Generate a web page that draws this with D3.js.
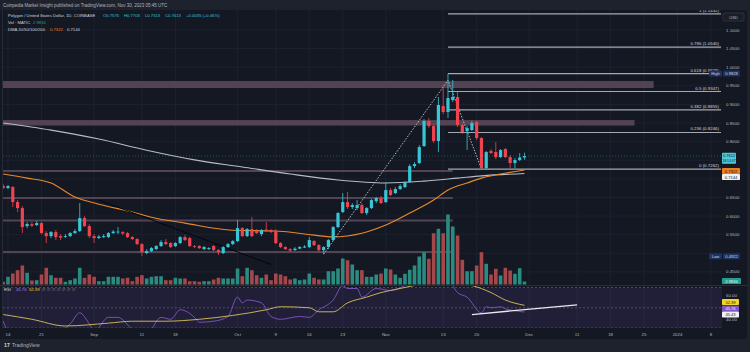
<!DOCTYPE html>
<html><head><meta charset="utf-8">
<script src="https://cdn.jsdelivr.net/npm/d3@7/dist/d3.min.js"></script>
<style>
html,body{margin:0;padding:0;background:#1e222d;overflow:hidden}
svg{display:block}
text{font-family:'Liberation Sans',Arial,sans-serif}
</style></head><body>
<svg id="chart" width="750" height="352"></svg>
<script>
// ---------------- DATA ----------------
const firstDay = "2023-08-13", lastDay = "2023-11-30";
const opens  = [0.6806,0.6753,0.6780,0.6376,0.6215,0.5731,0.5785,0.5758,0.5812,0.5543,0.5462,0.5570,0.5462,0.5449,0.5462,0.5543,0.5597,0.5946,0.5731,0.5462,0.5409,0.5435,0.5435,0.5543,0.5570,0.5570,0.5543,0.5435,0.5382,0.5247,0.5005,0.5059,0.5113,0.5194,0.5301,0.5274,0.5194,0.5274,0.5435,0.5409,0.5194,0.5194,0.5113,0.5113,0.5194,0.5086,0.5005,0.5167,0.5247,0.5328,0.5677,0.5462,0.5651,0.5597,0.5516,0.5637,0.5624,0.5597,0.5274,0.5167,0.5113,0.5086,0.5126,0.5153,0.5167,0.5328,0.5220,0.5086,0.5167,0.5355,0.5704,0.6108,0.6376,0.6242,0.6215,0.6296,0.6081,0.6215,0.6403,0.6484,0.6376,0.6699,0.6618,0.6726,0.6780,0.6914,0.7344,0.7425,0.7882,0.8554,0.8419,0.8016,0.8957,0.8796,0.9118,0.9199,0.8446,0.8285,0.8312,0.8527,0.8097,0.7290,0.7747,0.7720,0.7586,0.7801,0.7586,0.7425,0.7505,0.7575];
const highs  = [0.6860,0.6833,0.6806,0.6430,0.6269,0.5839,0.5839,0.5866,0.5839,0.5597,0.5597,0.5624,0.5516,0.5516,0.5570,0.5651,0.6349,0.6000,0.5785,0.5516,0.5489,0.5516,0.5570,0.5624,0.5704,0.5597,0.5570,0.5462,0.5409,0.5274,0.5113,0.5167,0.5220,0.5355,0.5382,0.5301,0.5301,0.5462,0.5489,0.5435,0.5220,0.5220,0.5194,0.5167,0.5220,0.5113,0.5194,0.5274,0.5355,0.5892,0.5704,0.5677,0.5973,0.5651,0.5651,0.5839,0.5651,0.5651,0.5301,0.5194,0.5140,0.5167,0.5194,0.5220,0.5435,0.5355,0.5247,0.5194,0.5382,0.5731,0.6108,0.6618,0.6645,0.6349,0.6430,0.6349,0.6242,0.6457,0.6511,0.6538,0.6914,0.6753,0.6780,0.6860,0.6941,0.7398,0.7452,0.7909,0.8608,0.8634,0.8473,0.9199,0.9522,0.9828,0.9656,0.9333,0.8500,0.8419,0.8554,0.8554,0.8124,0.7747,0.7801,0.7989,0.7801,0.7828,0.7640,0.7559,0.7694,0.7703];
const lows   = [0.6726,0.6726,0.6242,0.6108,0.5543,0.5677,0.5704,0.5731,0.5516,0.5274,0.5409,0.5355,0.5355,0.5409,0.5435,0.5516,0.5570,0.5704,0.5409,0.5274,0.5382,0.5409,0.5409,0.5516,0.5516,0.5489,0.5409,0.5355,0.5220,0.4922,0.4978,0.5032,0.5086,0.5167,0.5220,0.5140,0.5167,0.5247,0.5328,0.5167,0.5140,0.5113,0.5086,0.5086,0.5059,0.4952,0.4978,0.5140,0.5220,0.5301,0.5435,0.5435,0.5435,0.5516,0.5462,0.5570,0.5543,0.5247,0.5140,0.5086,0.5032,0.5059,0.5113,0.5140,0.5140,0.5194,0.5032,0.4978,0.5113,0.5328,0.5677,0.6081,0.6188,0.6188,0.6161,0.6054,0.6027,0.6188,0.6349,0.6323,0.6349,0.6538,0.6591,0.6699,0.6753,0.6887,0.7290,0.7398,0.7855,0.8366,0.7962,0.7720,0.8742,0.8634,0.9065,0.8392,0.8204,0.7774,0.8285,0.8043,0.7262,0.7262,0.7667,0.7532,0.7559,0.7559,0.7290,0.7290,0.7478,0.7513];
const closes = [0.6753,0.6806,0.6376,0.6215,0.5704,0.5785,0.5745,0.5812,0.5543,0.5462,0.5570,0.5435,0.5422,0.5462,0.5543,0.5597,0.5946,0.5731,0.5462,0.5409,0.5449,0.5462,0.5543,0.5583,0.5583,0.5530,0.5435,0.5382,0.5247,0.5032,0.5059,0.5140,0.5194,0.5301,0.5247,0.5167,0.5274,0.5435,0.5355,0.5194,0.5180,0.5140,0.5167,0.5140,0.5086,0.5032,0.5167,0.5247,0.5328,0.5677,0.5462,0.5651,0.5462,0.5543,0.5624,0.5597,0.5570,0.5274,0.5167,0.5113,0.5073,0.5126,0.5167,0.5180,0.5355,0.5220,0.5086,0.5167,0.5355,0.5704,0.6081,0.6376,0.6242,0.6296,0.6296,0.6081,0.6215,0.6430,0.6484,0.6349,0.6699,0.6565,0.6726,0.6806,0.6914,0.7344,0.7398,0.7855,0.8554,0.8419,0.8016,0.8984,0.8796,0.9172,0.9199,0.8446,0.8258,0.8366,0.8500,0.8097,0.7290,0.7720,0.7694,0.7586,0.7774,0.7586,0.7425,0.7505,0.7575,0.7613];
// volume (millions MATIC)
const volumes = [2.7,7.7,11,14.3,19,11.7,4,4.3,10,16.7, 9.3,6.7,6.7,2.7,4.3,6,16.7,6.7,10,7.7, 3.3,3.3,7.7,7.7,7.7,6,6.7,3.3,7.7,9.3, 6,7.7,8.3,8.3,4.3,4.3,6.7,6,6,3.3, 3.3,2.7,3.3,3.3,5,6.7,6,6,6,16, 8.3,16.7,14.3,9.3,6.7,10,4.3,11,10,8.3, 5,6,4.3,5,11,6.7,5,5,13.3,13.3, 16,26,24.3,20,14.3,14.3,7.7,7.7,10,11, 16,15,10,6.7,10.7,14.7,19,28,32.3,25.7, 51.3,55.7,51.3,70,58,49,24.7,13.3,13.3,19, 32.3,20.7,10,15.7,9,16.7,14,10.7,16.3,2.9834];
// moving averages (candle index -> value)
const ma200Idx = [0,10,20,30,40,50,60,70,80,88,95,100,109];
const ma200Val = [0.850,0.831,0.807,0.777,0.751,0.732,0.713,0.697,0.689,0.694,0.702,0.708,0.7144];
const ma50Idx  = [0,5,10,15,20,27,31,38,48,57,63,69,75,80,85,90,93,97,100,104,109];
const ma50Val  = [0.713,0.702,0.689,0.651,0.632,0.611,0.597,0.581,0.562,0.560,0.552,0.544,0.554,0.576,0.608,0.643,0.670,0.689,0.702,0.713,0.724];
// RSI and its MA (candle index -> value)
const rsiIdx = [0,1,3,6,10,14,16,18,19,22,24,27,30,33,35,37,40,41,44,47,49,50,51,54,56,58,62,64,66,69,71,72,74,75,78,81,84,87,90,93,94,95,97,100,101,102,104,105,107,109];
const rsiVal = [36.7,27,22,23,24,34,45,34,27,40.5,40.5,29,24,40.5,38.6,48,40.5,35.7,36.7,41.4,60.5,54.8,57.6,54.8,41.4,38.6,41.4,40.5,48,57.6,71.9,69,69,60.5,69,67,72,80,78,82,72,65,60.5,45,51,50,51,49,47,45.76];
const rsiMaIdx = [0,6,13,22,27,34,41,48,55,58,64,66,69,72,76,79,83,86,89,94,98,102,105,109];
const rsiMaVal = [43.3,38.6,32,34.8,36.7,36.7,38.6,42.4,48,51,50,46,46,54.8,60.5,65,69,72,74,75,72,65,57.6,52.39];
// price-axis ticks (those hidden behind value tags in the reference are left out)
const priceTicks = [0.45,0.55,0.60,0.65,0.80,0.85,0.90,0.95,1.00,1.05,1.10];
// time-axis ticks
const timeTickDates  = ["2023-08-14","2023-08-21","2023-09-01","2023-09-11","2023-09-18","2023-10-01","2023-10-09","2023-10-16","2023-10-23","2023-11-01","2023-11-13","2023-11-20","2023-12-01","2023-12-11","2023-12-18","2023-12-25","2024-01-01","2024-01-08"];
const timeTickLabels = ["14","21","Sep","11","18","Oct","9","16","23","Nov","13","20","Dec","11","18","25","2024","8"];
// fibonacci levels
const fibRatios = ["0","0.236","0.382","0.5","0.618","0.786","1"];
const fibPrices = [0.7262,0.8246,0.8855,0.9347,0.9829,1.0540,1.1432];
const fibStart = "2023-11-14";
// support / resistance drawings
const zoneTop = [0.9629,0.8580], zoneBottom = [0.9441,0.8433], zoneEnd = ["2023-12-27","2023-12-23"];
const levelPrices = [0.7210,0.6484,0.5879,0.5032], levelEnd = "2023-11-15";
const darkTrendDates = ["2023-09-02","2023-10-08"], darkTrendPrices = [0.643,0.470];
const dotLegDates = ["2023-10-19","2023-11-14","2023-11-21"], dotLegPrices = [0.4978,0.9650,0.7262];
const rsiTrendDates = ["2023-11-19","2023-12-11"], rsiTrendVals = [43.3,52.9];

// ---------------- SCALES ----------------
const P = d3.utcParse("%Y-%m-%d");
const dates = d3.utcDay.range(P(firstDay), d3.utcDay.offset(P(lastDay),1));
const x = d3.scaleUtc().domain([P("2023-08-14"), P("2024-01-08")]).range([8,711]);
const y = d3.scaleLinear().domain([0.45,1.10]).range([271.9,30]);
const yv = d3.scaleLinear().domain([0,70]).range([284.5,214.5]);
const yr = d3.scaleLinear().domain([30,70]).range([328,287.5]);

const svg = d3.select("#chart");
const L = 3, R = 722, TOP = 10, MAINB = 285, RSIB = 328;
const UP = "#37c6d6", DN = "#ef4450", VUP = "#2a8b80", VDN = "#a6474b";

// backgrounds
svg.append("rect").attr("width",750).attr("height",352).attr("fill","#1e222d");
svg.append("rect").attr("x",0).attr("y",TOP).attr("width",747).attr("height",339-TOP).attr("fill","#141823");
svg.append("defs").call(d=>{
  d.append("clipPath").attr("id","cm").append("rect").attr("x",L).attr("y",TOP).attr("width",R-L).attr("height",MAINB-TOP);
  d.append("clipPath").attr("id","cr").append("rect").attr("x",L).attr("y",MAINB+1).attr("width",R-L).attr("height",RSIB-MAINB-1);
});

// grid
const grid = svg.append("g").attr("stroke","#1d2130").attr("stroke-width",1);
timeTickDates.forEach(t=>grid.append("line").attr("x1",x(P(t))).attr("x2",x(P(t))).attr("y1",TOP).attr("y2",RSIB));
d3.range(0.45,1.1001,0.05).forEach(p=>grid.append("line").attr("x1",L).attr("x2",R).attr("y1",y(p)).attr("y2",y(p)));

const main = svg.append("g").attr("clip-path","url(#cm)");

// zones and levels
zoneTop.forEach((t,i)=>main.append("rect").attr("x",L).attr("y",y(t)).attr("width",x(P(zoneEnd[i]))-L).attr("height",y(zoneBottom[i])-y(t)).attr("fill","#5a4858").attr("opacity",0.9));
levelPrices.forEach(p=>main.append("line").attr("x1",L).attr("x2",x(P(levelEnd))).attr("y1",y(p)).attr("y2",y(p)).attr("stroke","#524454").attr("stroke-width",2));

// fib
fibPrices.forEach((p,i)=>{
  main.append("line").attr("x1",x(P(fibStart))).attr("x2",R-1).attr("y1",y(p)).attr("y2",y(p)).attr("stroke","#a5a8b0").attr("stroke-width",1.2);
  main.append("text").attr("x",R-3).attr("y",y(p)-2).attr("text-anchor","end").attr("font-size",4.4).attr("fill","#d1d4dc").text(`${fibRatios[i]} (${p.toFixed(4)})`);
});

// volume
const xi = i => x(dates[i]);
main.selectAll("rect.v").data(volumes).join("rect").attr("x",(v,i)=>xi(i)-1.8).attr("width",3.6)
  .attr("y",v=>yv(v)).attr("height",v=>yv(0)-yv(v)).attr("fill",(v,i)=>closes[i]>=opens[i]?VUP:VDN);

// MAs
const lineP = d3.line().curve(d3.curveMonotoneX);
main.append("path").attr("d",lineP(ma200Idx.map((k,j)=>[xi(k),y(ma200Val[j])]))).attr("fill","none").attr("stroke","#b8bbc4").attr("stroke-width",1.1);
main.append("path").attr("d",lineP(ma50Idx.map((k,j)=>[xi(k),y(ma50Val[j])]))).attr("fill","none").attr("stroke","#e9892b").attr("stroke-width",1.1);
main.append("line").attr("x1",x(P(darkTrendDates[0]))).attr("y1",y(darkTrendPrices[0])).attr("x2",x(P(darkTrendDates[1]))).attr("y2",y(darkTrendPrices[1])).attr("stroke","#05070b").attr("stroke-width",1);
main.append("path").attr("d",d3.line()(dotLegDates.map((d,j)=>[x(P(d)),y(dotLegPrices[j])]))).attr("fill","none").attr("stroke","#c9ccd4").attr("stroke-width",0.9).attr("stroke-dasharray","1.5,1.5");

// candles
const cg = main.append("g");
dates.forEach((d,i)=>{
  const c = closes[i]>=opens[i]?UP:DN, cx = xi(i);
  cg.append("line").attr("x1",cx).attr("x2",cx).attr("y1",y(highs[i])).attr("y2",y(lows[i])).attr("stroke",c).attr("stroke-width",0.8);
  const t = y(Math.max(opens[i],closes[i])), b = y(Math.min(opens[i],closes[i]));
  cg.append("rect").attr("x",cx-1.6).attr("width",3.2).attr("y",t).attr("height",Math.max(0.8,b-t)).attr("fill",c);
});
// last price line
main.append("line").attr("x1",L).attr("x2",R).attr("y1",y(closes[109])).attr("y2",y(closes[109])).attr("stroke","#37c6d6").attr("stroke-opacity",0.35).attr("stroke-dasharray","1,2");

// separators
svg.append("line").attr("x1",0).attr("x2",747).attr("y1",MAINB+0.5).attr("y2",MAINB+0.5).attr("stroke","#2a2e39");
svg.append("line").attr("x1",L-0.5).attr("x2",L-0.5).attr("y1",TOP).attr("y2",RSIB).attr("stroke","#262a36");

// RSI pane
const rs = svg.append("g").attr("clip-path","url(#cr)");
rs.append("rect").attr("x",L).attr("y",yr(70)).attr("width",R-L).attr("height",yr(30)-yr(70)).attr("fill","#7e57c2").attr("opacity",0.13);
[70,50,30].forEach(v=>rs.append("line").attr("x1",L).attr("x2",R).attr("y1",yr(v)).attr("y2",yr(v)).attr("stroke","#787b86").attr("stroke-opacity",0.5).attr("stroke-dasharray","2,2"));
rs.append("path").attr("d",lineP(rsiIdx.map((k,j)=>[xi(k),yr(rsiVal[j])]))).attr("fill","none").attr("stroke","#7e57c2").attr("stroke-width",0.9);
rs.append("path").attr("d",lineP(rsiMaIdx.map((k,j)=>[xi(k),yr(rsiMaVal[j])]))).attr("fill","none").attr("stroke","#d8c25a").attr("stroke-width",0.9);
rs.append("line").attr("x1",x(P(rsiTrendDates[0]))).attr("y1",yr(rsiTrendVals[0])).attr("x2",x(P(rsiTrendDates[1]))).attr("y2",yr(rsiTrendVals[1])).attr("stroke","#e8e9ee").attr("stroke-width",1.3);

// axis labels
const ax = svg.append("g").attr("font-size",4.4).attr("fill","#b2b5be");
priceTicks.forEach(p=>ax.append("text").attr("x",726).attr("y",y(p)).attr("dominant-baseline","central").text(p.toFixed(4)));
ax.append("text").attr("x",726).attr("y",yr(60)-2).attr("dominant-baseline","central").text("60.00");
ax.append("text").attr("x",726).attr("y",yr(40)+1.5).attr("dominant-baseline","central").text("40.00");
timeTickDates.forEach((t,i)=>ax.append("text").attr("x",x(P(t))).attr("y",334).attr("text-anchor","middle").attr("dominant-baseline","central").text(timeTickLabels[i]));

// tags on price axis
function tag(x0,yc,w,h,fill,txt,col,stroke){
  svg.append("rect").attr("x",x0).attr("y",yc-h/2).attr("width",w).attr("height",h).attr("rx",0.8).attr("fill",fill).attr("stroke",stroke||"none").attr("stroke-width",0.5);
  svg.append("text").attr("x",x0+w/2).attr("y",yc+0.2).attr("text-anchor","middle").attr("dominant-baseline","central").attr("font-size",4.1).attr("fill",col).text(txt);
}
tag(723,17,21,8,"#1a1e29","USD","#b2b5be","#434651");
tag(709,y(highs[93]),13,6,"#1b3263","High","#d1d4dc");
tag(723,y(highs[93]),17,6,"#1b3263",highs[93].toFixed(4),"#d1d4dc");
tag(709,y(0.4922),13,6,"#1b3263","Low","#d1d4dc");
tag(723,y(0.4922),17,6,"#1b3263","0.4922","#d1d4dc");
svg.append("rect").attr("x",722).attr("y",y(closes[109])-3.2).attr("width",14).attr("height",11).attr("rx",0.8).attr("fill","#4fc9d9");
svg.append("text").attr("x",729).attr("y",y(closes[109])-0.3).attr("text-anchor","middle").attr("dominant-baseline","central").attr("font-size",4.0).attr("fill","#131722").text("0.7612");
svg.append("text").attr("x",729).attr("y",y(closes[109])+5).attr("text-anchor","middle").attr("dominant-baseline","central").attr("font-size",3.4).attr("fill","#131722").text("18:14:47");
tag(722,171,18,6,"#ef7d1a","0.7322","#131722");
tag(722,177,18,6,"#f0f1f4","0.7144","#131722");
tag(722,yv(volumes[109])-0.5,19,6,"#22a08f","2.9834","#f0f3fa");
tag(722,302,17,6,"#f2d52a","52.39","#131722");
tag(722,308.5,17,6,"#7e57c2","45.76","#f0f3fa");
tag(722,314.5,17,6,"#f0f1f4","45.43","#131722");

// header & legends
svg.append("text").attr("x",3).attr("y",6.5).attr("font-size",4.5).attr("fill","#b2b5be").text("Coinpedia Market Insight published on TradingView.com, Nov 30, 2023 05:45 UTC");
const lg = svg.append("g").attr("font-size",4.2);
function legendLine(yy, parts){ // parts: [text, colour, x]
  parts.forEach(([t,c,xx])=>lg.append("text").attr("x",xx).attr("y",yy).attr("fill",c).text(t));
}
const cStr = `C${closes[109].toFixed(4)}`;
legendLine(16.5, [["Polygon / United States Dollar, 1D, COINBASE","#d1d4dc",8],
  [`O${opens[109].toFixed(4)}`,"#37c6d6",103],[`H${highs[109].toFixed(4)}`,"#37c6d6",124],
  [`L${lows[109].toFixed(4)}`,"#37c6d6",145],[cStr,"#37c6d6",165],["+0.0035 (+0.46%)","#37c6d6",186]]);
legendLine(23.5, [["Vol · MATIC","#d1d4dc",8],["2.9834","#22a08f",33]]);
legendLine(30.5, [["DMA 20/50/100/200","#d1d4dc",8],["0.7322","#ef7d1a",50],["0.7144","#d1d4dc",67]]);
legendLine(291, [["RSI","#d1d4dc",4],["45.76","#9d7fe0",16],["52.39","#f2d52a",29],
  ["∅","#8a8d96",42],["∅","#8a8d96",47],["∅","#8a8d96",52],["∅","#8a8d96",57],["∅","#8a8d96",62],["∅","#8a8d96",67],["∅","#8a8d96",72]]);

// footer logo
svg.append("text").attr("x",4).attr("y",347).attr("font-size",5.2).attr("font-weight","bold").attr("fill","#d1d4dc").text("17");
svg.append("text").attr("x",12).attr("y",347).attr("font-size",5).attr("fill","#b2b5be").text("TradingView");
</script>
</body></html>
